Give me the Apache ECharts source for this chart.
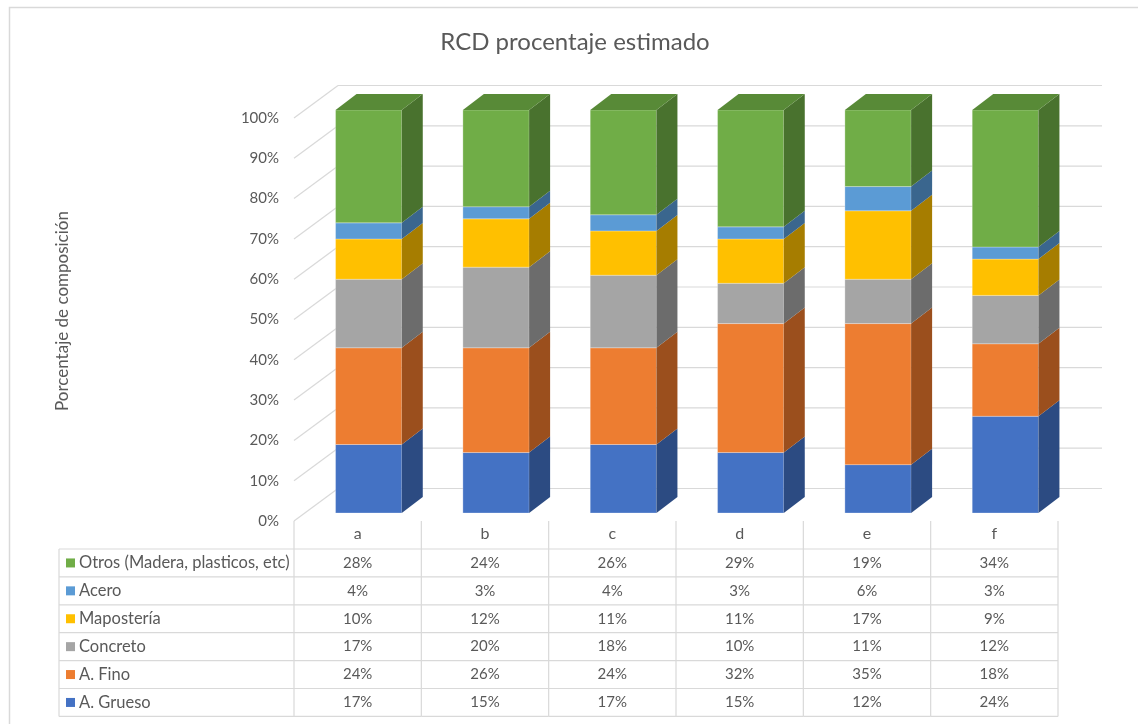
<!DOCTYPE html>
<html>
<head>
<meta charset="utf-8">
<script src="https://cdn.jsdelivr.net/npm/echarts@6/dist/echarts.min.js"></script>
<style>
  html, body { margin: 0; padding: 0; background: #fff; }
  #chart { width: 1138px; height: 724px; }
</style>
</head>
<body>
<div id="chart"></div>
<script>
// Composition of construction & demolition waste (RCD) per sample, in percent
const categories = ['a', 'b', 'c', 'd', 'e', 'f'];
const aGrueso     = [17, 15, 17, 15, 12, 24];
const aFino       = [24, 26, 24, 32, 35, 18];
const concreto    = [17, 20, 18, 10, 11, 12];
const mamposteria = [10, 12, 11, 11, 17, 9];
const acero       = [4, 3, 4, 3, 6, 3];
const otros       = [28, 24, 26, 29, 19, 34];
const seriesNames = ['A. Grueso', 'A. Fino', 'Concreto', 'Mapostería', 'Acero', 'Otros (Madera, plasticos, etc)'];
const yTicks      = [0, 10, 20, 30, 40, 50, 60, 70, 80, 90, 100];

const seriesValues = [aGrueso, aFino, concreto, mamposteria, acero, otros];
const frontColors = ['#4472C4', '#ED7D31', '#A5A5A5', '#FFC000', '#5B9BD5', '#70AD47'];
const sideColors  = ['#2C4B82', '#9B4F1D', '#6C6C6C', '#A67D00', '#3A668E', '#49722E'];
const topColors   = ['#3A62A8', '#C96A29', '#8C8C8C', '#D9A300', '#4D84B5', '#588A37'];

const FONT = 'Lato, "Open Sans", sans-serif';
const TEXT = '#595959';
const LINE = '#D9D9D9';

// 3D look: wall depth, bar front offset and bar depth (pixels)
const WALL_DX = 44, WALL_DY = -32.5;
const BAR_FX = 11, BAR_FY = -8;
const BAR_DX = 21, BAR_DY = -16;
const ROW_H = 27.9;

const chart = echarts.init(document.getElementById('chart'), null, { renderer: 'canvas' });

// Back wall gridlines with their diagonal floor edges
const wallSeries = {
  type: 'custom',
  coordinateSystem: 'cartesian2d',
  silent: true,
  z: 1,
  data: yTicks.map(v => [0, v]),
  renderItem(params, api) {
    const cs = params.coordSys;
    const y = api.coord([0, api.value(1)])[1];
    const x0 = cs.x;
    const style = { stroke: LINE, lineWidth: 1.2, fill: null };
    return {
      type: 'group',
      children: [
        { type: 'line', shape: { x1: x0, y1: y, x2: x0 + WALL_DX, y2: y + WALL_DY }, style },
        { type: 'line', shape: { x1: x0 + WALL_DX, y1: y + WALL_DY, x2: x0 + cs.width + WALL_DX, y2: y + WALL_DY }, style }
      ]
    };
  }
};

// Stacked 3D boxes, one custom series per material
const barSeries = seriesValues.map((vals, si) => {
  const data = vals.map((v, ci) => {
    let base = 0;
    for (let k = 0; k < si; k++) base += seriesValues[k][ci];
    return [ci, base, base + v, si === seriesValues.length - 1 ? 1 : 0];
  });
  return {
    type: 'custom',
    name: seriesNames[si],
    coordinateSystem: 'cartesian2d',
    z: 2,
    encode: { x: 0, y: [1, 2] },
    data,
    renderItem(params, api) {
      const c = api.value(0), b = api.value(1), t = api.value(2), isTop = api.value(3);
      const pb = api.coord([c, b]);
      const pt = api.coord([c, t]);
      const bw = api.size([1, 0])[0] * 0.52;
      const x1 = pb[0] - bw / 2 + BAR_FX;
      const x2 = x1 + bw;
      const yT = pt[1] + BAR_FY;
      const yB = pb[1] + BAR_FY;
      const children = [
        { type: 'rect', shape: { x: x1, y: yT, width: bw, height: yB - yT },
          style: { fill: frontColors[si], stroke: 'rgba(255,255,255,0.35)', lineWidth: 0.8 } },
        { type: 'polygon', shape: { points: [[x2, yT], [x2, yB], [x2 + BAR_DX, yB + BAR_DY], [x2 + BAR_DX, yT + BAR_DY]] },
          style: { fill: sideColors[si] } }
      ];
      if (isTop) {
        children.push({ type: 'polygon',
          shape: { points: [[x1, yT], [x2, yT], [x2 + BAR_DX, yT + BAR_DY], [x1 + BAR_DX, yT + BAR_DY]] },
          style: { fill: topColors[si] } });
      }
      return { type: 'group', children };
    }
  };
});

// Data table under the plot: one column per category, legend keys on the left
const tableRows = [5, 4, 3, 2, 1, 0];
const tableSeries = {
  type: 'custom',
  coordinateSystem: 'cartesian2d',
  silent: true,
  z: 3,
  data: categories.map((c, i) => [i, 0]),
  renderItem(params, api) {
    const cs = params.coordSys;
    const i = api.value(0);
    const band = api.size([1, 0])[0];
    const cx = api.coord([i, 0])[0];
    const xl = cx - band / 2, xr = cx + band / 2;
    const top = cs.y + cs.height;
    const rowsTop = top + 28;
    const bottom = rowsTop + ROW_H * 6;
    const ls = { stroke: LINE, lineWidth: 1.2, fill: null };
    const children = [];
    children.push({ type: 'line', shape: { x1: xl, y1: top, x2: xl, y2: bottom }, style: ls });
    if (i === categories.length - 1) {
      children.push({ type: 'line', shape: { x1: xr, y1: top, x2: xr, y2: bottom }, style: ls });
    }
    for (let r = 0; r <= 6; r++) {
      const y = rowsTop + ROW_H * r;
      children.push({ type: 'line', shape: { x1: xl, y1: y, x2: xr, y2: y }, style: ls });
    }
    tableRows.forEach((si, r) => {
      children.push({ type: 'text', style: {
        x: cx, y: rowsTop + ROW_H * (r + 0.5), text: seriesValues[si][i] + '%',
        align: 'center', verticalAlign: 'middle', fill: TEXT, font: '15px ' + FONT } });
    });
    if (i === 0) {
      const lx = 59;
      children.push({ type: 'line', shape: { x1: lx, y1: rowsTop, x2: lx, y2: bottom }, style: ls });
      for (let r = 0; r <= 6; r++) {
        const y = rowsTop + ROW_H * r;
        children.push({ type: 'line', shape: { x1: lx, y1: y, x2: xl, y2: y }, style: ls });
      }
      tableRows.forEach((si, r) => {
        const ym = rowsTop + ROW_H * (r + 0.5);
        children.push({ type: 'rect', shape: { x: 66, y: ym - 4.5, width: 9, height: 9 }, style: { fill: frontColors[si] } });
        children.push({ type: 'text', style: {
          x: 79, y: ym, text: seriesNames[si], align: 'left', verticalAlign: 'middle',
          fill: TEXT, font: '16.5px ' + FONT } });
      });
    }
    return { type: 'group', children };
  }
};

chart.setOption({
  animation: false,
  backgroundColor: '#fff',
  grid: { left: 294, right: 80, top: 118, bottom: 203 },
  xAxis: {
    type: 'category',
    data: categories,
    axisLine: { show: false },
    axisTick: { show: false },
    splitLine: { show: false },
    axisLabel: { color: TEXT, fontFamily: FONT, fontSize: 16, margin: 5 }
  },
  yAxis: {
    type: 'value',
    min: 0, max: 100, interval: 10,
    axisLine: { show: false },
    axisTick: { show: false },
    splitLine: { show: false },
    axisLabel: { color: TEXT, fontFamily: FONT, fontSize: 15, margin: 15, formatter: '{value}%' }
  },
  graphic: [
    { type: 'rect', silent: true, z: 0, shape: { x: 9.5, y: 7.5, width: 1140, height: 740 },
      style: { fill: null, stroke: LINE, lineWidth: 1.5 } },
    { type: 'text', silent: true, style: { x: 575, y: 42, text: 'RCD procentaje estimado',
      align: 'center', verticalAlign: 'middle', fill: TEXT, font: '24px ' + FONT } },
    { type: 'text', silent: true, x: 63, y: 311, rotation: Math.PI / 2,
      style: { x: 0, y: 0, text: 'Porcentaje de composición', align: 'center', verticalAlign: 'middle',
        fill: TEXT, font: '17px ' + FONT } }
  ],
  series: [wallSeries, ...barSeries, tableSeries]
});
</script>
</body>
</html>
